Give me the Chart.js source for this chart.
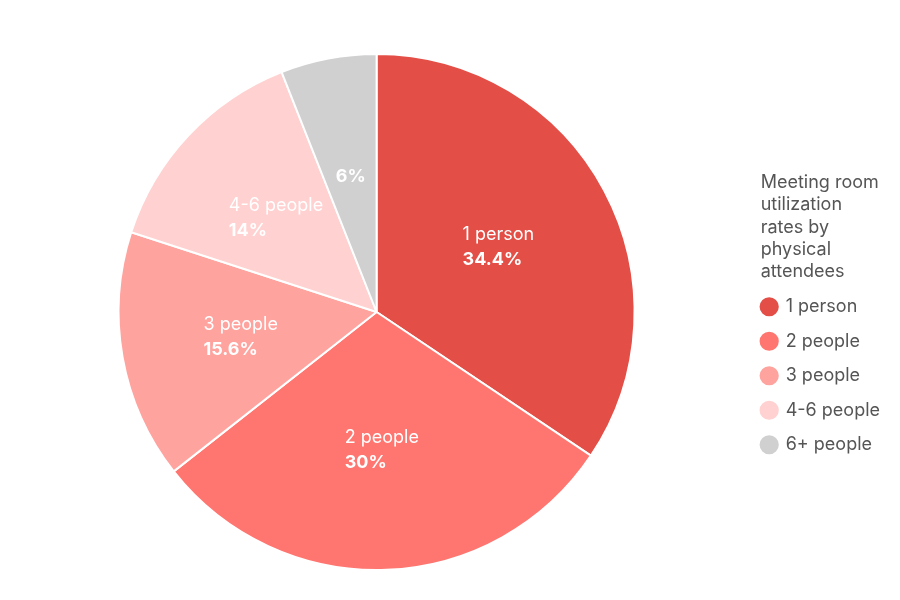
<!DOCTYPE html>
<html>
<head>
<meta charset="utf-8">
<script src="https://cdn.jsdelivr.net/npm/chart.js@4"></script>
<style>
  body { margin: 0; background: #fff; }
  #wrap { width: 900px; height: 600px; }
</style>
</head>
<body>
<div id="wrap"><canvas id="myChart"></canvas></div>
<script>
var labels = ['1 person', '2 people', '3 people', '4-6 people', '6+ people'];
var shares = [34.4, 30, 15.6, 14, 6];
var colors = ['#e34e46', '#ff7670', '#ffa39f', '#ffd1d0', '#d0d0d0'];
var legendTitle = ['Meeting room', 'utilization', 'rates by', 'physical', 'attendees'];

// labels inside the slices: name on top, bold percentage below
var sliceLabels = {
  id: 'sliceLabels',
  afterDatasetsDraw: function (chart) {
    var ctx = chart.ctx;
    var meta = chart.getDatasetMeta(0);
    ctx.save();
    ctx.fillStyle = '#ffffff';
    ctx.textBaseline = 'middle';
    ctx.textAlign = 'left';
    meta.data.forEach(function (arc, i) {
      var p = arc.getProps(['x', 'y', 'startAngle', 'endAngle', 'outerRadius'], true);
      var mid = (p.startAngle + p.endAngle) / 2;
      var r = p.outerRadius * 0.535;
      var cx = p.x + Math.cos(mid) * r;
      var cy = p.y + Math.sin(mid) * r;
      var pct = shares[i] + '%';
      var name = i === 4 ? null : labels[i];
      ctx.font = '400 18px Inter';
      var w1 = name ? ctx.measureText(name).width : 0;
      ctx.font = '700 18px Inter';
      var w2 = ctx.measureText(pct).width;
      var left = cx - Math.max(w1, w2) / 2;
      if (name) {
        ctx.font = '400 18px Inter';
        ctx.fillText(name, left, cy - 12);
        ctx.font = '700 18px Inter';
        ctx.fillText(pct, left, cy + 13);
      } else {
        ctx.fillText(pct, left, cy);
      }
    });
    ctx.restore();
  }
};

// multi-line legend title, left aligned with the legend markers
var legendHeading = {
  id: 'legendHeading',
  afterDraw: function (chart) {
    var boxes = chart.legend.legendHitBoxes;
    if (!boxes || !boxes.length) return;
    var ctx = chart.ctx;
    var first = boxes[0];
    var x = first.left - 1;
    var lastY = first.top + first.height / 2 - 35;
    ctx.save();
    ctx.fillStyle = '#555555';
    ctx.font = '400 18px Inter';
    ctx.textAlign = 'left';
    ctx.textBaseline = 'middle';
    legendTitle.forEach(function (line, i) {
      ctx.fillText(line, x, lastY - (legendTitle.length - 1 - i) * 22.3);
    });
    ctx.restore();
  }
};

var chart = new Chart(document.getElementById('myChart').getContext('2d'), {
  type: 'pie',
  data: {
    labels: labels,
    datasets: [{
      data: shares,
      backgroundColor: colors,
      borderColor: '#ffffff',
      borderWidth: 2
    }]
  },
  options: {
    responsive: true,
    maintainAspectRatio: false,
    animation: false,
    layout: { padding: { top: 53, bottom: 29, left: 8, right: 10 } },
    plugins: {
      tooltip: { enabled: false },
      legend: {
        position: 'right',
        align: 'center',
        title: {
          // space is reserved here, the lines are drawn by legendHeading
          display: true,
          text: ' ',
          color: 'rgba(0,0,0,0)',
          font: { family: 'Inter', size: 18, lineHeight: 1.24 },
          padding: { top: 0, bottom: 4 * 22.3 + 16 }
        },
        labels: {
          usePointStyle: true,
          pointStyle: 'circle',
          boxWidth: 15,
          boxHeight: 15,
          padding: 16.5,
          color: '#555555',
          font: { family: 'Inter', size: 18 }
        }
      }
    }
  },
  plugins: [sliceLabels, legendHeading]
});
</script>
</body>
</html>
